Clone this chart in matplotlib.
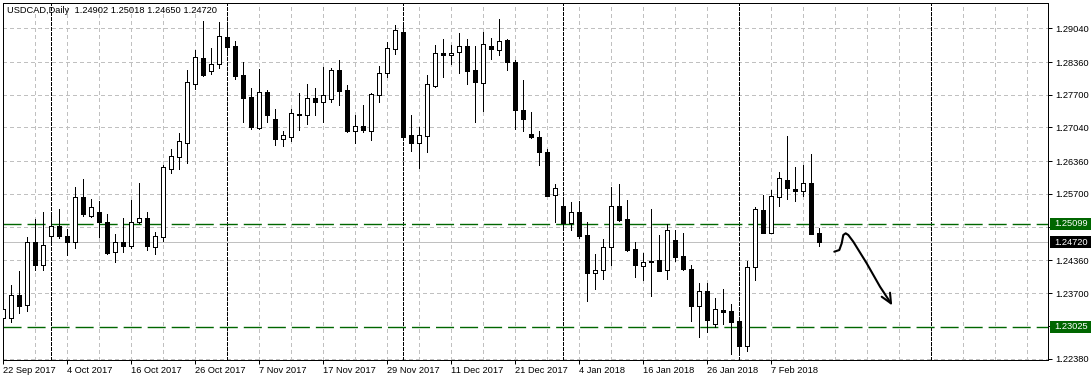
import matplotlib
matplotlib.use("Agg")
import matplotlib.pyplot as plt
from matplotlib.patches import Rectangle
from matplotlib.transforms import blended_transform_factory

plt.rcParams['font.family'] = ['Liberation Sans', 'DejaVu Sans']

# ---------------- data ----------------
header_text = "USDCAD,Daily  1.24902 1.25018 1.24650 1.24720"

opens = [1.23206, 1.23192, 1.23666, 1.23463, 1.24732, 1.24274, 1.24854, 1.25056, 1.24842, 1.24720,
         1.25644, 1.25259, 1.25340, 1.25138, 1.24529, 1.24732, 1.24651, 1.25138, 1.25206, 1.24631,
         1.24834, 1.26200, 1.26435, 1.26727, 1.27923, 1.28450, 1.28178, 1.28328, 1.28855, 1.28673,
         1.28091, 1.27659, 1.27031, 1.27761, 1.27213, 1.26808, 1.26840, 1.27321, 1.27300, 1.27639,
         1.27558, 1.27611, 1.28192, 1.27787, 1.26962, 1.27071, 1.26962, 1.27700, 1.28138, 1.28632,
         1.28956, 1.26895, 1.26727, 1.26860, 1.27874, 1.28537, 1.28510, 1.28571, 1.28673, 1.28192,
         1.27935, 1.28673, 1.28612, 1.28800, 1.28369, 1.27402, 1.26915, 1.26848, 1.26544, 1.25673,
         1.25462, 1.25105, 1.25340, 1.24868, 1.24112, 1.24173, 1.24619, 1.25450, 1.25192, 1.24584,
         1.24246, 1.24355, 1.24361, 1.24173, 1.24761, 1.24442, 1.24193, 1.23435, 1.23747, 1.23078,
         1.23368, 1.23348, 1.23145, 1.22638, 1.24225, 1.25375, 1.24915, 1.25644, 1.25989, 1.25800,
         1.25766, 1.25916, 1.24902]
highs = [1.23516, 1.23854, 1.24138, 1.24834, 1.25192, 1.25328, 1.25247, 1.25389, 1.24990, 1.25847,
         1.25997, 1.25592, 1.25557, 1.25300, 1.24894, 1.25206, 1.25571, 1.25916, 1.25328, 1.24935,
         1.26273, 1.26605, 1.26929, 1.28192, 1.28598, 1.29179, 1.28638, 1.29159, 1.29125, 1.28774,
         1.28369, 1.27842, 1.28213, 1.27787, 1.27416, 1.26976, 1.27422, 1.27740, 1.27908, 1.27842,
         1.28259, 1.28247, 1.28395, 1.27894, 1.27286, 1.27489, 1.27726, 1.28279, 1.28760, 1.29104,
         1.29104, 1.27286, 1.27051, 1.28091, 1.28699, 1.28821, 1.28699, 1.28942, 1.28821, 1.28673,
         1.28956, 1.28835, 1.29226, 1.28821, 1.28395, 1.27990, 1.27355, 1.26976, 1.26605, 1.25896,
         1.25598, 1.25531, 1.25557, 1.25125, 1.24497, 1.24787, 1.25841, 1.25896, 1.25577, 1.24720,
         1.24517, 1.25395, 1.24868, 1.25085, 1.24969, 1.24902, 1.24274, 1.23909, 1.23909, 1.23597,
         1.23788, 1.23484, 1.23186, 1.24341, 1.25442, 1.25679, 1.25780, 1.26151, 1.26875, 1.26252,
         1.26273, 1.26510, 1.25018]
lows = [1.22537, 1.23111, 1.23293, 1.23348, 1.24159, 1.24159, 1.24665, 1.24801, 1.24463, 1.24611,
        1.25253, 1.25233, 1.24827, 1.24493, 1.24327, 1.24529, 1.24611, 1.25105, 1.24564, 1.24489,
        1.24746, 1.26131, 1.26206, 1.26333, 1.27807, 1.28081, 1.28111, 1.28247, 1.28551, 1.28010,
        1.27144, 1.27017, 1.27017, 1.27152, 1.26678, 1.26658, 1.26759, 1.26996, 1.27118, 1.27286,
        1.27144, 1.27550, 1.27489, 1.26950, 1.26719, 1.26950, 1.26794, 1.27558, 1.28056, 1.28523,
        1.26834, 1.26556, 1.26232, 1.26536, 1.27862, 1.28056, 1.28314, 1.28131, 1.27908, 1.27144,
        1.27381, 1.28415, 1.28502, 1.28198, 1.27011, 1.26976, 1.26835, 1.26273, 1.25649, 1.25138,
        1.25004, 1.24969, 1.24813, 1.23530, 1.23773, 1.23976, 1.24260, 1.25152, 1.24550, 1.24023,
        1.23956, 1.23638, 1.24135, 1.23976, 1.24341, 1.24169, 1.23145, 1.22807, 1.22908, 1.23009,
        1.23078, 1.22470, 1.22450, 1.22537, 1.23956, 1.24910, 1.24902, 1.25462, 1.25598, 1.25557,
        1.25659, 1.24888, 1.24650]
closes = [1.23388, 1.23666, 1.23435, 1.24732, 1.24274, 1.24679, 1.25044, 1.24854, 1.24732, 1.25644,
          1.25294, 1.25442, 1.25138, 1.24509, 1.24732, 1.24651, 1.25138, 1.25206, 1.24651, 1.24842,
          1.26252, 1.26455, 1.26759, 1.27955, 1.28470, 1.28097, 1.28328, 1.28888, 1.28665, 1.28077,
          1.27639, 1.27043, 1.27761, 1.27286, 1.26808, 1.26895, 1.27335, 1.27286, 1.27639, 1.27550,
          1.27700, 1.28192, 1.27773, 1.26962, 1.27071, 1.26982, 1.27706, 1.28146, 1.28652, 1.28997,
          1.26840, 1.26719, 1.26895, 1.27908, 1.28551, 1.28502, 1.28551, 1.28673, 1.28178, 1.27955,
          1.28713, 1.28632, 1.28774, 1.28361, 1.27388, 1.27205, 1.26840, 1.26544, 1.25659, 1.25815,
          1.25105, 1.25340, 1.24854, 1.24104, 1.24173, 1.24619, 1.25450, 1.25172, 1.24564, 1.24274,
          1.24327, 1.24327, 1.24138, 1.24963, 1.24428, 1.24179, 1.23435, 1.23747, 1.23165, 1.23382,
          1.23327, 1.23125, 1.22638, 1.24225, 1.25395, 1.24915, 1.25652, 1.26017, 1.25815, 1.25766,
          1.25916, 1.24888, 1.24720]

date_labels = ["22 Sep 2017", "4 Oct 2017", "16 Oct 2017", "26 Oct 2017", "7 Nov 2017",
               "17 Nov 2017", "29 Nov 2017", "11 Dec 2017", "21 Dec 2017", "4 Jan 2018",
               "16 Jan 2018", "26 Jan 2018", "7 Feb 2018"]
date_label_bars = [0, 8, 16, 24, 32, 40, 48, 56, 64, 72, 80, 88, 96]
month_separator_bars = [6, 28, 50, 70, 92, 116]

price_ticks = [1.29040, 1.28360, 1.27700, 1.27040, 1.26360, 1.25700, 1.25040,
               1.24360, 1.23700, 1.23040, 1.22380]
price_tick_labels = ["1.29040", "1.28360", "1.27700", "1.27040", "1.26360", "1.25700",
                     "1.25040", "1.24360", "1.23700", "1.23040", "1.22380"]

level_prices = [1.25099, 1.23025]
level_labels = ["1.25099", "1.23025"]
bid_price = 1.24720
bid_label = "1.24720"

# hand-drawn forecast arrow (bar index, price)
arrow_x = [103.875, 104.5, 104.8, 105.0, 105.3, 105.625, 106.25, 107.925, 109.59, 110.96]
arrow_p = [1.24534, 1.24568, 1.24703, 1.24871, 1.24905, 1.24871, 1.24736, 1.24300, 1.23828, 1.23493]
arrowhead_x = [109.8, 110.96, 110.84]
arrowhead_p = [1.23626, 1.23493, 1.23707]

# ---------------- figure ----------------
W, H = 1091, 382
fig = plt.figure(figsize=(W / 100, H / 100), dpi=100)
fig.patch.set_facecolor('white')
L, R, T, B = 2.7, 1048.3, 2.7, 360.0
ax = fig.add_axes([L / W, 1 - B / H, (R - L) / W, (B - T) / H])
ax.set_facecolor('white')

ymin, ymax = 1.2235, 1.29556
ax.set_xlim(-0.075, 130.625)
ax.set_ylim(ymin, ymax)

px = 0.72  # one pixel in points
grid_col = '#c0c0c0'
ppx = (ymax - ymin) / (B - T)  # price per pixel
green = '#006600'

# grid (skip rows hidden under a level line)
for p in price_ticks:
    if min(abs(p - q) for q in level_prices) < 1.2 * ppx:
        continue
    ax.axhline(p, color=grid_col, lw=px, ls=(0, (4, 3)), zorder=1, antialiased=False)
for b in range(0, 132, 4):
    ax.axvline(b, color=grid_col, lw=px, ls=(0, (4, 3)), zorder=1, antialiased=False)
for b in month_separator_bars:
    ax.axvline(b, color='black', lw=px, ls=(0, (3, 2)), zorder=1.5, antialiased=False)

# level lines
for p in level_prices:
    ax.axhline(p, color=green, lw=1.0, ls=(0, (13, 4.3)), zorder=2)
ax.axhline(bid_price, color='#c0c0c0', lw=px, zorder=2, antialiased=False)

# candles
body_w = 0.5
for i in range(len(opens)):
    o, h, l, c = opens[i], highs[i], lows[i], closes[i]
    ax.plot([i, i], [l, h], color='black', lw=px, zorder=3, antialiased=False,
            solid_capstyle='butt')
    bottom = min(o, c)
    height = abs(c - o)
    face = 'white' if c >= o else 'black'
    ax.add_patch(Rectangle((i - body_w / 2, bottom), body_w, height, facecolor=face,
                           edgecolor='black', lw=px, zorder=4, antialiased=False))

# arrow annotation
ax.plot(arrow_x, arrow_p, color='black', lw=1.5, zorder=5, solid_capstyle='round',
        solid_joinstyle='round')
ax.plot(arrowhead_x, arrowhead_p, color='black', lw=1.5, zorder=5, solid_capstyle='round',
        solid_joinstyle='round')

# axes styling
for s in ax.spines.values():
    s.set_color('black')
    s.set_linewidth(px)
ax.yaxis.tick_right()
ax.set_yticks(price_ticks)
ax.set_yticklabels(price_tick_labels)
ax.set_xticks(date_label_bars)
ax.set_xticklabels(date_labels, ha='left')
ax.tick_params(axis='y', which='both', right=True, left=False, labelright=True,
               labelleft=False, length=4 * px, width=px, pad=3 * px, labelsize=6.7,
               direction='out', colors='black')
ax.tick_params(axis='x', which='both', bottom=True, length=4 * px, width=px, pad=2 * px,
               labelsize=6.7, direction='out', colors='black')

# price boxes on the right
trans = blended_transform_factory(fig.transFigure, ax.transData)


def price_box(price, text, face):
    h = 12 * ppx
    fig.add_artist(Rectangle((1049.5 / W, price - h / 2), 41.5 / W, h, transform=trans,
                             facecolor=face, edgecolor='none', zorder=10))
    fig.text(1054.5 / W, price, text, transform=trans, va='center', ha='left',
             color='white', fontsize=6.7, zorder=11)


for p, t in zip(level_prices, level_labels):
    price_box(p, t, green)
price_box(bid_price, bid_label, 'black')

fig.text(7.3 / W, 1 - 10.7 / H, header_text, fontsize=6.7, va='center', ha='left',
         color='black')

fig.savefig('out.png', dpi=100, facecolor='white')
